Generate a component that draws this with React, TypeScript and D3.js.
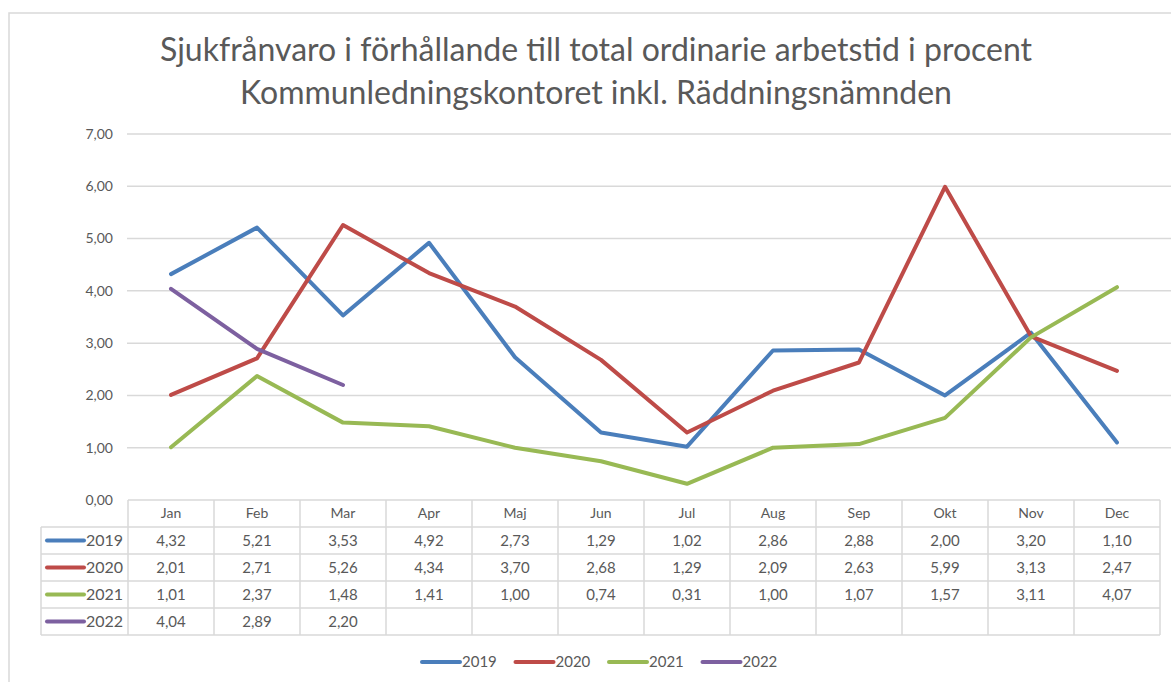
import React from 'react';
import * as d3 from 'd3';

const months = ['Jan', 'Feb', 'Mar', 'Apr', 'Maj', 'Jun', 'Jul', 'Aug', 'Sep', 'Okt', 'Nov', 'Dec'];
const years = ['2019', '2020', '2021', '2022'];
const v2019 = [4.32, 5.21, 3.53, 4.92, 2.73, 1.29, 1.02, 2.86, 2.88, 2.0, 3.2, 1.1];
const v2020 = [2.01, 2.71, 5.26, 4.34, 3.7, 2.68, 1.29, 2.09, 2.63, 5.99, 3.13, 2.47];
const v2021 = [1.01, 2.37, 1.48, 1.41, 1.0, 0.74, 0.31, 1.0, 1.07, 1.57, 3.11, 4.07];
const v2022 = [4.04, 2.89, 2.2];
const yTicks = [0, 1, 2, 3, 4, 5, 6, 7];
const titleLines = [
  'Sjukfrånvaro i förhållande till total ordinarie arbetstid i procent',
  'Kommunledningskontoret inkl. Räddningsnämnden',
];

const series = [v2019, v2020, v2021, v2022];
const colors = ['#4a7ebb', '#be4b48', '#98b954', '#7d60a0'];
const fmt = (v: number) => v.toFixed(2).replace('.', ',');

const W = 1171, H = 682;
const FONT = 'Lato, "Open Sans", sans-serif';
const TXT = '#595959';
const GRID = '#d9d9d9';

export default function App() {
  const x = d3.scaleBand<string>().domain(months).range([128, 1160]);
  const y = d3.scaleLinear().domain([0, 7]).range([500, 134]);
  const line = d3.line<number>()
    .x((_, i) => (x(months[i]) as number) + x.bandwidth() / 2)
    .y(d => y(d));

  const rowH = 27;
  const tableTop = 500;
  const tableBottom = tableTop + rowH * (years.length + 1);

  return (
    <svg width={W} height={H} style={{ position: 'absolute', left: 0, top: 0, background: '#fff' }} fontFamily={FONT}>
      <rect x={9} y={13} width={W} height={H} fill="none" stroke={GRID} strokeWidth={1.5} />
      {titleLines.map((t, i) => (
        <text key={i} x={596} y={61 + i * 43} textAnchor="middle" fontSize={32} fill={TXT}>{t}</text>
      ))}
      {yTicks.map(t => (
        <g key={t}>
          {t > 0 && <line x1={127} x2={W} y1={y(t)} y2={y(t)} stroke={GRID} strokeWidth={1.5} />}
          <text x={113} y={y(t)} dy="0.35em" textAnchor="end" fontSize={14} fill={TXT}>{fmt(t)}</text>
        </g>
      ))}
      {/* data table */}
      <line x1={128} x2={1160} y1={tableTop} y2={tableTop} stroke={GRID} strokeWidth={1.5} />
      {years.map((yr, r) => (
        <line key={yr} x1={41} x2={1160} y1={tableTop + rowH * (r + 1)} y2={tableTop + rowH * (r + 1)} stroke={GRID} strokeWidth={1.5} />
      ))}
      <line x1={41} x2={1160} y1={tableBottom} y2={tableBottom} stroke={GRID} strokeWidth={1.5} />
      <line x1={41} x2={41} y1={tableTop + rowH} y2={tableBottom} stroke={GRID} strokeWidth={1.5} />
      {months.map(m => (
        <line key={m} x1={x(m)} x2={x(m)} y1={tableTop} y2={tableBottom} stroke={GRID} strokeWidth={1.5} />
      ))}
      <line x1={1160} x2={1160} y1={tableTop} y2={tableBottom} stroke={GRID} strokeWidth={1.5} />
      {months.map(m => (
        <text key={m} x={(x(m) as number) + x.bandwidth() / 2} y={tableTop + rowH / 2} dy="0.35em" textAnchor="middle" fontSize={14} fill={TXT}>{m}</text>
      ))}
      {years.map((yr, r) => {
        const cy = tableTop + rowH * (r + 1.5);
        return (
          <g key={yr}>
            <line x1={47} x2={84} y1={cy} y2={cy} stroke={colors[r]} strokeWidth={4} strokeLinecap="round" />
            <text x={86} y={cy} dy="0.35em" fontSize={16} fill={TXT}>{yr}</text>
            {series[r].map((v, i) => (
              <text key={i} x={(x(months[i]) as number) + x.bandwidth() / 2} y={cy} dy="0.35em" textAnchor="middle" fontSize={15} fill={TXT}>{fmt(v)}</text>
            ))}
          </g>
        );
      })}
      {/* lines */}
      {series.map((s, r) => (
        <path key={r} d={line(s) as string} fill="none" stroke={colors[r]} strokeWidth={4} strokeLinejoin="round" strokeLinecap="round" />
      ))}
      {/* legend */}
      {years.map((yr, r) => {
        const lx = 422 + r * 93.5;
        return (
          <g key={yr}>
            <line x1={lx} x2={lx + 38} y1={662} y2={662} stroke={colors[r]} strokeWidth={4} strokeLinecap="round" />
            <text x={lx + 40} y={662} dy="0.35em" fontSize={15} fill={TXT}>{yr}</text>
          </g>
        );
      })}
    </svg>
  );
}
